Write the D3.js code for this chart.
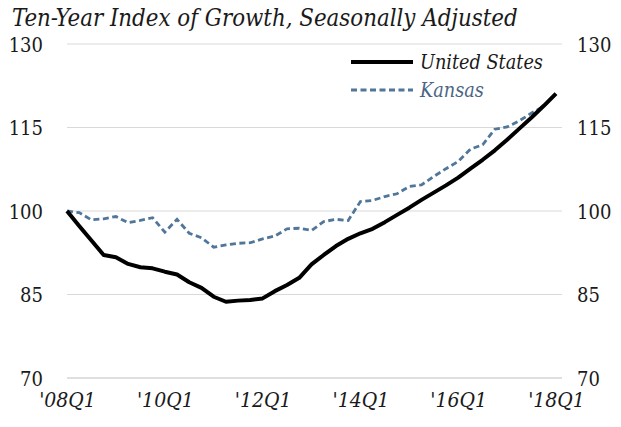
<!DOCTYPE html>
<html>
<head>
<meta charset="utf-8">
<script src="https://cdn.jsdelivr.net/npm/d3@7"></script>
<style>
  body { margin: 0; background: #fff; }
  svg text { font-family: "DejaVu Serif Condensed", "DejaVu Serif", serif; font-stretch: condensed; fill: #1a1a1a; }
</style>
</head>
<body>
<svg id="chart" width="621" height="427"></svg>
<script>
// quarters from 2008Q1 to 2018Q1
const quarters = [];
for (let y = 2008; y <= 2018; y++) {
  for (let q = 1; q <= 4; q++) {
    if (y === 2018 && q > 1) break;
    quarters.push(`'${String(y).slice(2)}Q${q}`);
  }
}

const usValues = [
  100.0, 97.3, 94.7, 92.1,
  91.7, 90.5, 89.9, 89.7,
  89.1, 88.6, 87.2, 86.2,
  84.6, 83.7, 83.9, 84.0,
  84.3, 85.6, 86.7, 88.0,
  90.4, 92.1, 93.7, 95.0,
  96.0, 96.8, 98.0, 99.3,
  100.6, 102.0, 103.3, 104.6,
  106.0, 107.6, 109.2, 110.9,
  112.8, 114.8, 116.8, 118.9,
  121.1
];

const kansasValues = [
  100.0, 99.7, 98.4, 98.6,
  99.0, 97.9, 98.3, 98.8,
  96.2, 98.5, 96.0, 95.2,
  93.5, 93.9, 94.2, 94.3,
  95.0, 95.5, 96.8, 96.9,
  96.5, 98.1, 98.5, 98.3,
  101.7, 101.9, 102.6, 103.1,
  104.4, 104.7, 106.2, 107.6,
  108.9, 111.1, 111.9, 114.7,
  115.1, 116.2, 117.6, 118.8,
  121.1
];

const yTicks = [70, 85, 100, 115, 130];
const xTickLabels = ["'08Q1", "'10Q1", "'12Q1", "'14Q1", "'16Q1", "'18Q1"];

const svg = d3.select("#chart");

const x = d3.scalePoint().domain(quarters).range([67, 556]);
const y = d3.scaleLinear().domain([70, 130]).range([378, 44]);

const gridLeft = 67, gridRight = 562;

// shrink/grow a text's font size so it spans the width seen in the picture
function fitWidth(sel, target) {
  const node = sel.node();
  const fs = parseFloat(sel.style("font-size"));
  const w = node.getComputedTextLength();
  sel.style("font-size", (fs * target / w).toFixed(2) + "px");
}

// gridlines
svg.append("g")
  .selectAll("line")
  .data(yTicks)
  .join("line")
  .attr("x1", gridLeft)
  .attr("x2", gridRight)
  .attr("y1", d => y(d))
  .attr("y2", d => y(d))
  .attr("stroke", d => d === 70 ? "#bfbfbf" : "#d9d9d9")
  .attr("stroke-width", 1.2);

// left and right axes
const leftAxis = d3.axisLeft(y).tickValues(yTicks).tickSize(0).tickPadding(0);
const rightAxis = d3.axisRight(y).tickValues(yTicks).tickSize(0).tickPadding(0);

svg.append("g")
  .attr("transform", "translate(43,0)")
  .call(leftAxis)
  .attr("font-family", null)
  .call(g => g.select(".domain").remove())
  .selectAll("text")
  .attr("dy", "0.35em")
  .style("font-size", "20px");

svg.append("g")
  .attr("transform", "translate(577,0)")
  .call(rightAxis)
  .attr("font-family", null)
  .call(g => g.select(".domain").remove())
  .selectAll("text")
  .attr("dy", "0.35em")
  .style("font-size", "20px");

// bottom axis
const bottomAxis = d3.axisBottom(x).tickValues(xTickLabels).tickSize(0).tickPadding(0);
svg.append("g")
  .attr("transform", "translate(0,400)")
  .call(bottomAxis)
  .attr("font-family", null)
  .call(g => g.select(".domain").remove())
  .selectAll("text")
  .attr("dy", "0.35em")
  .style("font-size", "21px")
  .style("font-style", "italic");

// lines
const line = d3.line()
  .x((d, i) => x(quarters[i]))
  .y(d => y(d));

svg.append("path")
  .datum(kansasValues)
  .attr("fill", "none")
  .attr("stroke", "#50769a")
  .attr("stroke-width", 2.8)
  .attr("stroke-dasharray", "6,3.5")
  .attr("d", line);

svg.append("path")
  .datum(usValues)
  .attr("fill", "none")
  .attr("stroke", "#000")
  .attr("stroke-width", 4)
  .attr("stroke-linejoin", "round")
  .attr("d", line);

// title
const title = svg.append("text")
  .attr("x", 12)
  .attr("y", 26)
  .style("font-size", "22px")
  .style("font-style", "italic")
  .text("Ten-Year Index of Growth, Seasonally Adjusted");
fitWidth(title, 506);

// legend
const legend = svg.append("g");
legend.append("line")
  .attr("x1", 351).attr("x2", 413)
  .attr("y1", 62).attr("y2", 62)
  .attr("stroke", "#000").attr("stroke-width", 4);
const usLabel = legend.append("text")
  .attr("x", 420).attr("y", 62).attr("dy", "0.35em")
  .style("font-size", "20px").style("font-style", "italic")
  .text("United States");
fitWidth(usLabel, 123);
legend.append("line")
  .attr("x1", 351).attr("x2", 413)
  .attr("y1", 90).attr("y2", 90)
  .attr("stroke", "#50769a").attr("stroke-width", 2.8)
  .attr("stroke-dasharray", "6,3.5");
legend.append("text")
  .attr("x", 420).attr("y", 90).attr("dy", "0.35em")
  .style("font-size", usLabel.style("font-size")).style("font-style", "italic")
  .style("fill", "#4a6584")
  .text("Kansas");
</script>
</body>
</html>
